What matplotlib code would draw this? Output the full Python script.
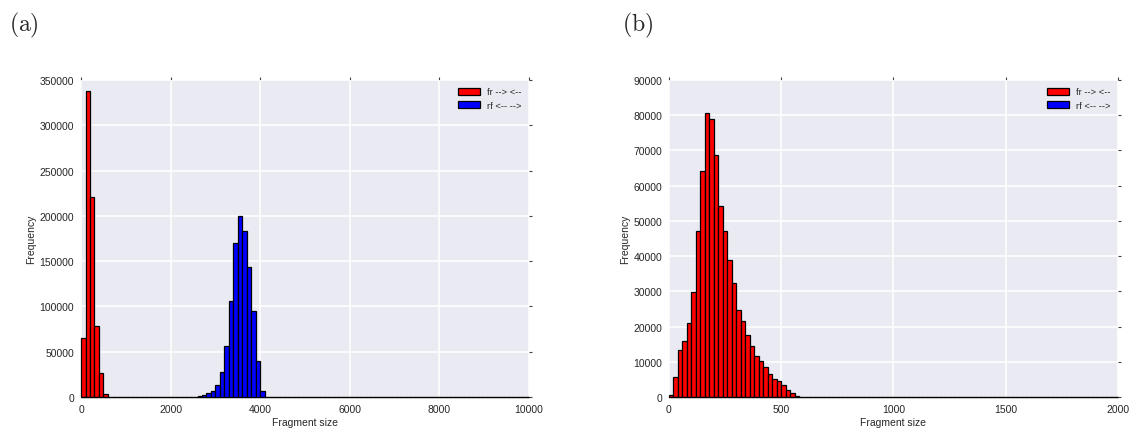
import numpy as np
import matplotlib
matplotlib.use("Agg")
import matplotlib.pyplot as plt
import seaborn as sns

# --- data (counts per bin) ---
# panel (a): 100 bins of width 100 over 0..10000
a_edges = np.linspace(0, 10000, 101)
a_fr_first_bin = 0
a_fr_counts = [65000, 338000, 221000, 78000, 26500, 3700, 400]
a_rf_first_bin = 25          # bin starting at 2500
a_rf_counts = [500, 1100, 2200, 4400, 7000, 13200, 27200, 56000, 106000,
               170000, 200000, 183000, 143000, 94500, 39700, 6600]

# panel (b): 100 bins of width 20 over 0..2000
b_edges = np.linspace(0, 2000, 101)
b_fr_first_bin = 0
b_fr_counts = [500, 5800, 13300, 15900, 20900, 29900, 47200, 64300, 80500,
               78900, 68600, 54100, 47100, 39000, 32300, 24600, 21600, 17500,
               14500, 11700, 10200, 8500, 6600, 5200, 4400, 3300, 2100, 1100, 400]
b_rf_counts = []

series_labels = ["fr --> <--", "rf <-- -->"]
series_colors = ["#ff0000", "#0000ff"]


def full_counts(edges, first, counts):
    out = np.zeros(len(edges) - 1)
    out[first:first + len(counts)] = counts
    return out


sns.set_style("darkgrid")
plt.rcParams["font.family"] = ["Liberation Sans", "DejaVu Sans"]
plt.rcParams["mathtext.fontset"] = "cm"

fig = plt.figure(figsize=(11.3, 4.31), dpi=100)
ax_a = fig.add_axes([0.0717, 0.0766, 0.3965, 0.7355])
ax_b = fig.add_axes([0.592, 0.0766, 0.3973, 0.7355])

panels = [
    (ax_a, a_edges, [full_counts(a_edges, a_fr_first_bin, a_fr_counts),
                     full_counts(a_edges, a_rf_first_bin, a_rf_counts)],
     (0, 10000), np.arange(0, 10001, 2000), (0, 350000), np.arange(0, 350001, 50000)),
    (ax_b, b_edges, [full_counts(b_edges, b_fr_first_bin, b_fr_counts),
                     full_counts(b_edges, 0, b_rf_counts)],
     (0, 2000), np.arange(0, 2001, 500), (0, 90000), np.arange(0, 90001, 10000)),
]

for ax, edges, counts, xlim, xticks, ylim, yticks in panels:
    centers = (edges[:-1] + edges[1:]) / 2
    for c, lab, col in zip(counts, series_labels, series_colors):
        _, _, patches = ax.hist(centers, bins=edges, weights=c, color=col,
                                edgecolor="black", linewidth=0.9, label=lab)
        # zero-height bins leave a dark line along the baseline
        for p in patches:
            p.set_clip_on(False)
    ax.set_xlim(*xlim)
    ax.set_ylim(*ylim)
    ax.set_xticks(xticks)
    ax.set_yticks(yticks)
    ax.set_facecolor("#EAEAF2")
    ax.grid(True, color="white", linewidth=1.1)
    ax.set_axisbelow(True)
    for s in ax.spines.values():
        s.set_visible(False)
    ax.tick_params(direction="out", length=2, width=0.8, color="#444444",
                   labelsize=7.5, labelcolor="#262626", pad=3,
                   top=True, right=True)
    ax.set_xlabel("Fragment size", fontsize=7.5, color="#262626", labelpad=2)
    ax.set_ylabel("Frequency", fontsize=7.5, color="#262626", labelpad=2.5)
    ax.legend(loc="upper right", frameon=False, fontsize=6.7,
              handlelength=2.3, handleheight=0.8, borderaxespad=0.4)

fig.text(0.008, 0.942, r"$\mathrm{(a)}$", fontsize=17, va="center", ha="left")
fig.text(0.550, 0.942, r"$\mathrm{(b)}$", fontsize=17, va="center", ha="left")

fig.savefig("out.png", dpi=100)
